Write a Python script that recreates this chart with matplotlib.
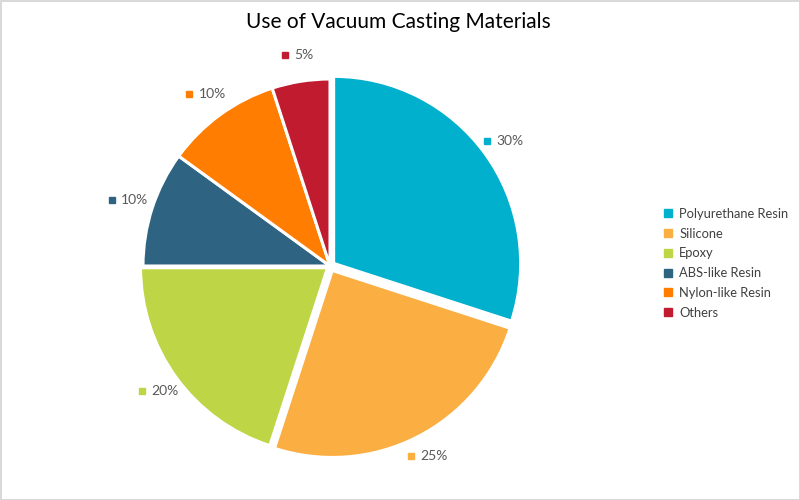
import matplotlib
matplotlib.use("Agg")
import matplotlib.pyplot as plt
from matplotlib.lines import Line2D
import numpy as np

categories = ["Polyurethane Resin", "Silicone", "Epoxy", "ABS-like Resin", "Nylon-like Resin", "Others"]
values = [30, 25, 20, 10, 10, 5]
labels = ["30%", "25%", "20%", "10%", "10%", "5%"]
colors = ["#00B0CC", "#FBAE42", "#BED545", "#2E6481", "#FF7D00", "#C01B2E"]
explode_px = [4.5, 5, 3, 0, 0, 0]

plt.rcParams['font.family'] = ['Lato', 'DejaVu Sans']

W, H = 800, 500
fig = plt.figure(figsize=(8, 5), dpi=100)
fig.patch.set_facecolor("white")
fig.patch.set_edgecolor("#D9D9D9")
fig.patch.set_linewidth(2)

ax = fig.add_axes([0, 0, 1, 1])

cx, cy, R = 330, H - 266, 187
wedges, _ = ax.pie(values, colors=colors, startangle=90, counterclock=False,
                   center=(cx, cy), radius=R, explode=explode_px,
                   wedgeprops=dict(edgecolor="white", linewidth=2.2), frame=True)
ax.set_xlim(0, W)
ax.set_ylim(0, H)
ax.set_aspect("equal")
ax.axis("off")

# data labels: small colored square + gray percentage
for w, lab, col in zip(wedges, labels, colors):
    ang = np.deg2rad((w.theta1 + w.theta2) / 2)
    r = R * 1.14
    bx = cx + r * np.cos(ang)
    by = cy + r * np.sin(ang)
    total = 38 if len(lab) == 3 else 31
    x0 = bx - total / 2
    ax.plot([x0 + 3.5], [by], marker="s", markersize=5, color=col, linestyle="none")
    ax.text(x0 + 13, by, lab, ha="left", va="center", fontsize=10, color="#595959")

fig.text(398 / W, 1 - 22 / H, "Use of Vacuum Casting Materials", ha="center", va="center",
         fontsize=15, color="#000000")

handles = [Line2D([0], [0], marker="s", color="none", markerfacecolor=c, markeredgecolor=c,
                  markersize=6) for c in colors]
fig.legend(handles, categories, loc="upper left", bbox_to_anchor=(663 / W, 1 - 208 / H),
           frameon=False, fontsize=9.3, labelcolor="#404040", handlelength=0.8,
           handletextpad=0.45, labelspacing=0.6, borderpad=0, borderaxespad=0)

fig.savefig("out.png", dpi=100, facecolor=fig.get_facecolor(), edgecolor=fig.get_edgecolor())
